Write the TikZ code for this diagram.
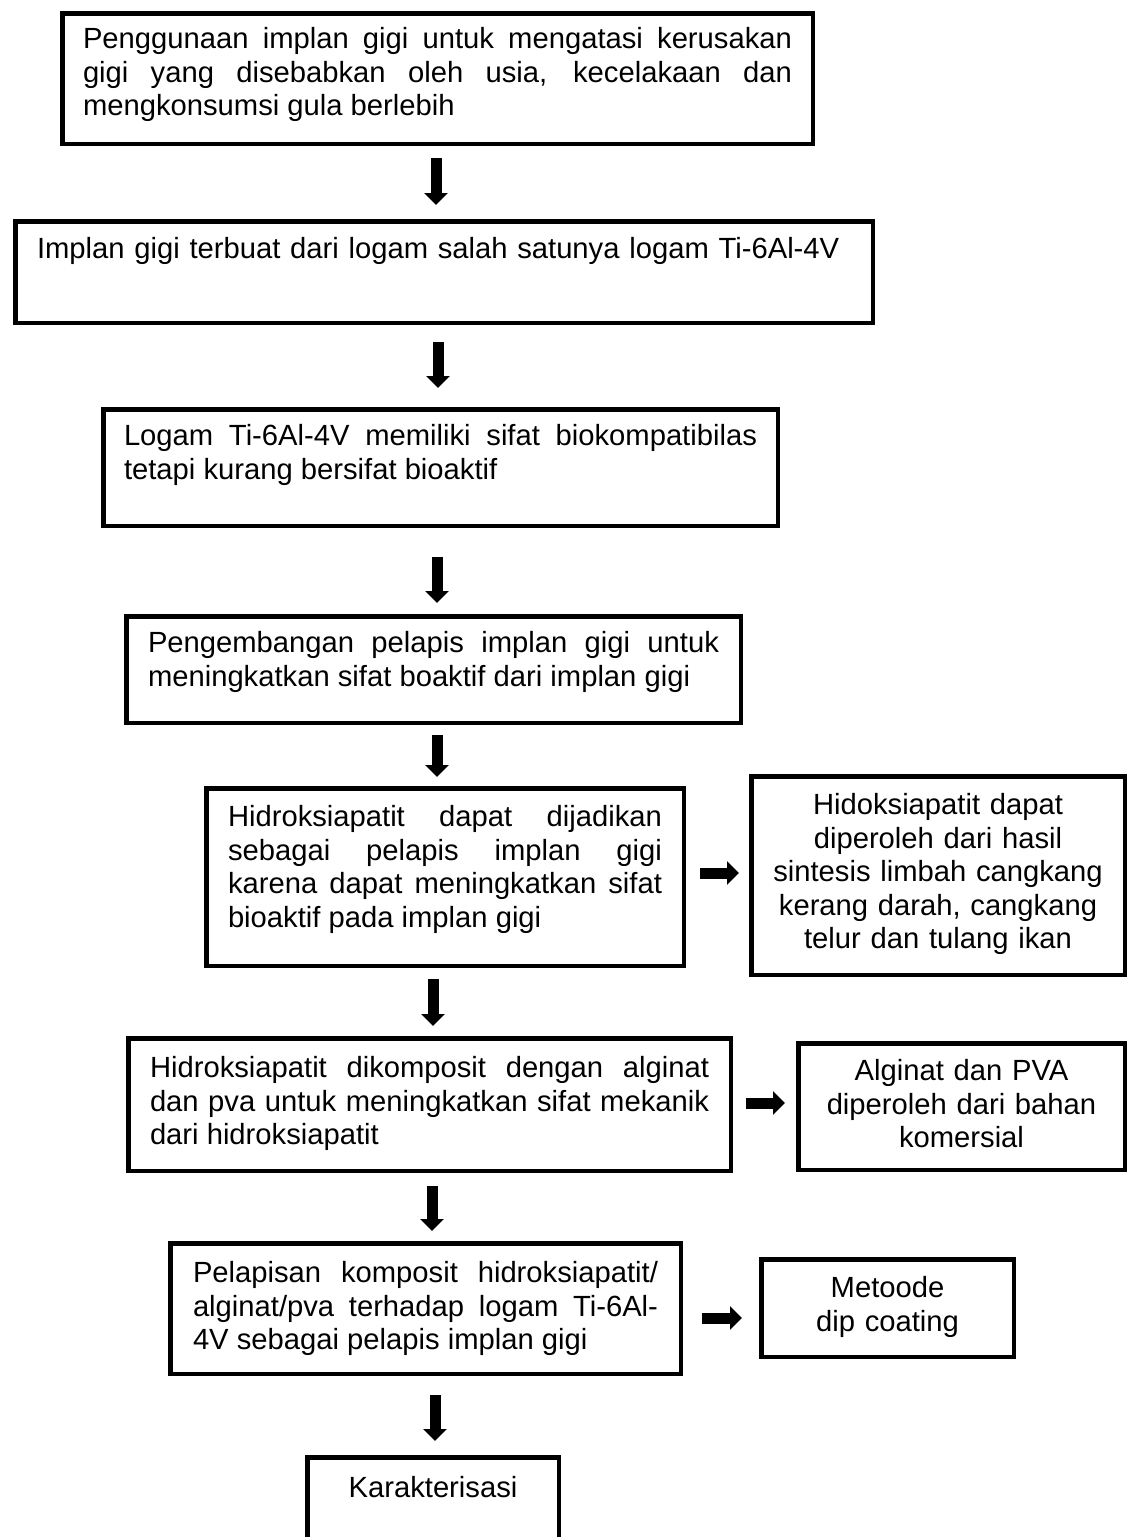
\documentclass[tikz,border=0pt]{standalone}
\usepackage{fontspec}
\setmainfont{Liberation Sans}
\usetikzlibrary{arrows.meta}
\hyphenpenalty=10000
\tolerance=10000
\hbadness=10000

\begin{document}
\begin{tikzpicture}[x=1pt, y=-1pt,
	kotak/.style={draw, line width=4.5pt, anchor=north west, inner ysep=0pt, font=\fontsize{29.2}{33.5}\selectfont},
	rata/.style={kotak, align=justify, inner xsep=21.75pt},
	tengah/.style={kotak, align=center, inner xsep=10pt},
	panah/.style={line width=11pt, -{Triangle[width=23pt,length=12pt]}}]

	\useasboundingbox (0,0) rectangle (1134,1537);

	\node[rata, inner xsep=20.75pt, text width=709pt, text height=35.4pt, text depth=95.2pt] (masalah) at (60,11) {Penggunaan implan gigi untuk mengatasi kerusakan\linebreak gigi yang disebabkan oleh usia, kecelakaan dan\linebreak mengkonsumsi gula berlebih};
	\node[kotak, align=left, inner xsep=21.75pt, text width=814pt, text height=37.4pt, text depth=64.2pt] (bahan) at (13,219) {Implan gigi terbuat dari logam salah satunya logam Ti-6Al-4V};
	\node[rata, inner xsep=20.75pt, text width=633pt, text height=36.4pt, text depth=80.2pt] (sifat) at (101,407) {Logam Ti-6Al-4V memiliki sifat biokompatibilas\linebreak tetapi kurang bersifat bioaktif};
	\node[rata, text width=571pt, text height=36.4pt, text depth=70.2pt] (pelapis) at (124,614) {Pengembangan pelapis implan gigi untuk\linebreak meningkatkan sifat boaktif dari implan gigi};
	\node[rata, text width=434pt, text height=38.4pt, text depth=139.2pt] (hap) at (204,786) {Hidroksiapatit dapat dijadikan\linebreak sebagai pelapis implan gigi\linebreak karena dapat meningkatkan sifat\linebreak bioaktif pada implan gigi};
	\node[tengah, text width=353.5pt, text height=38.4pt, text depth=160.2pt] (sumber) at (749,774) {Hidoksiapatit dapat\\diperoleh dari hasil\\sintesis limbah cangkang\\kerang darah, cangkang\\telur dan tulang ikan};
	\node[rata, text width=559pt, text height=39.4pt, text depth=93.2pt] (komposit) at (126,1036) {Hidroksiapatit dikomposit dengan alginat\linebreak dan pva untuk meningkatkan sifat mekanik\linebreak dari hidroksiapatit};
	\node[tengah, text width=306.5pt, text height=37.4pt, text depth=89.2pt] (komersial) at (796,1041) {Alginat dan PVA\\diperoleh dari bahan\\komersial};
	\node[rata, inner xsep=22.75pt, text width=465pt, text height=39.4pt, text depth=91.2pt] (lapisan) at (168,1241) {Pelapisan komposit hidroksiapatit/\linebreak alginat/pva terhadap logam Ti-6Al-\linebreak 4V sebagai pelapis implan gigi};
	\node[tengah, text width=232.5pt, text height=38.4pt, text depth=59.2pt] (metode) at (759,1257) {Metoode\\dip coating};
	\node[tengah, text width=231.5pt, text height=40.4pt, text depth=50pt] (karakter) at (305,1455) {Karakterisasi};

	\foreach \dari/\ke/\x/\awal/\akhir in {masalah/bahan/436/12/14, bahan/sifat/438/17/19, sifat/pelapis/437/29/11, pelapis/hap/437/10/9, hap/komposit/433/11/10, komposit/lapisan/432/13/10, lapisan/karakter/435/19/14}{
		\coordinate (ax) at (\x,0);
		\draw[panah, shorten <=\awal pt, shorten >=\akhir pt] (\dari.south -| ax) -- (\ke.north -| ax);
	}

	\foreach \dari/\ke/\y/\awal/\akhir in {hap/sumber/873/14/10, komposit/komersial/1103/13/11, lapisan/metode/1318/19/17}{
		\coordinate (ay) at (0,\y);
		\draw[panah, shorten <=\awal pt, shorten >=\akhir pt] (\dari.east |- ay) -- (\ke.west |- ay);
	}

\end{tikzpicture}
\end{document}
